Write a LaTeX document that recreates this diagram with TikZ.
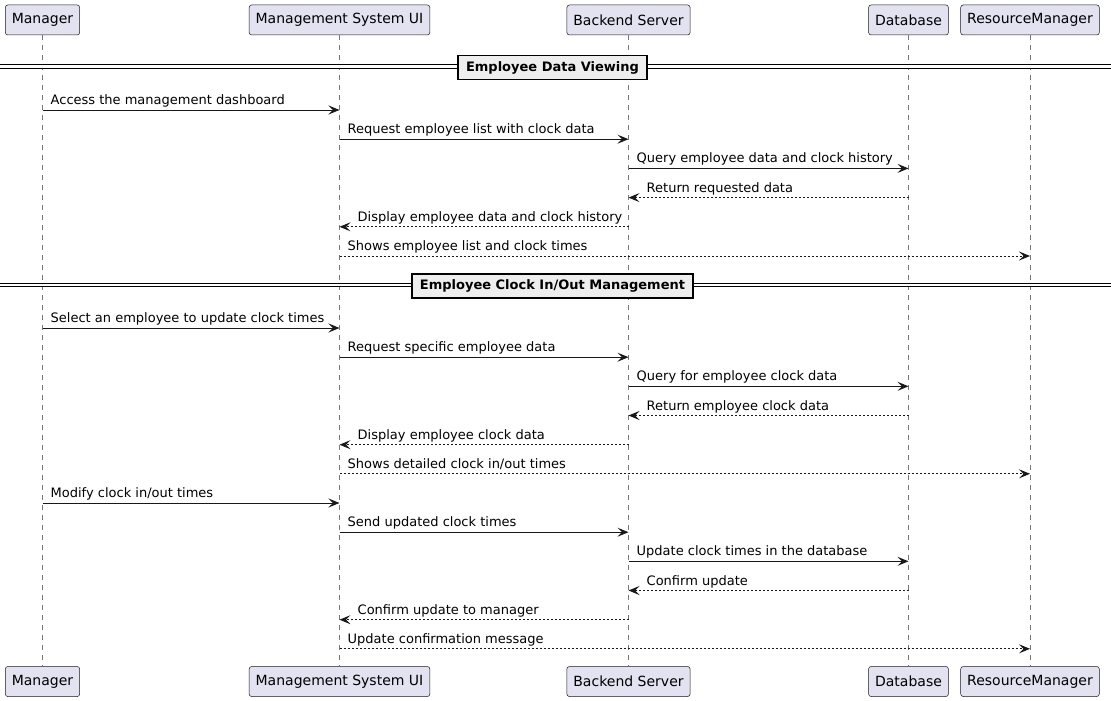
\documentclass[tikz,border=0pt]{standalone}
\usepackage{fontspec}
\setmainfont{DejaVu Sans}
\usetikzlibrary{arrows.meta}
\definecolor{partfill}{HTML}{E2E2F0}
\definecolor{partline}{HTML}{181818}
\definecolor{lifegray}{HTML}{777777}
\definecolor{divfill}{HTML}{EEEEEE}

\begin{document}
\begin{tikzpicture}[x=1pt,y=-1pt]
  \newcommand{\Xmgr}[0]{ 42.5 }
  \newcommand{\Xui}[0]{ 339.5 }
  \newcommand{\Xbe}[0]{ 628.5 }
  \newcommand{\Xdb}[0]{ 908.5 }
  \newcommand{\Xrm}[0]{ 1030 }
  \newcommand{\Xcenter}[0]{ 552.5 }
  \newcommand{\Xwidth}[0]{ 1111 }
  \newcommand{\Ytop}[0]{ 20 }
  \newcommand{\Ybot}[0]{ 681.5 }
  
  \tikzstyle{edge}  = [line width=1pt,draw=partline,-{Stealth[length=11pt,width=9pt,inset=4.5pt]}]
  \tikzstyle{dedge} = [line width=1pt,draw=partline,dash pattern=on 2pt off 2pt,-{Stealth[length=11pt,width=9pt,inset=4.5pt]}]
  \tikzstyle{lifeline} = [line width=0.6pt,draw=lifegray,dash pattern=on 5pt off 5pt]
  \tikzstyle{participant}=[
    rectangle,
    draw=partline,
    fill=partfill,
    line width=0.5pt,
    rounded corners=2.5pt,
    anchor=center,
    minimum height=30pt,
    inner xsep=6.5pt,
    font=\fontsize{14}{16}\selectfont,
  ]
  \tikzstyle{msglabel}=[
    anchor=base west,
    inner sep=0pt,
    font=\fontsize{13}{15}\selectfont,
  ]
  \tikzstyle{divline}=[
    draw=black,
    line width=1pt,
    double=white,
    double distance=2.3pt,
  ]
  \tikzstyle{divider}=[
    rectangle,
    draw=black,
    fill=divfill,
    line width=1.5pt,
    anchor=center,
    minimum height=24pt,
    inner xsep=8pt,
    font=\fontsize{13}{15}\selectfont\bfseries,
  ]
  
  \useasboundingbox (0,0) rectangle (\Xwidth,701);
  
  % #1: prefix
  % #2: x position
  % #3: label
  \newcommand{\buildParticipant}[3]{
    \node[participant] (#1 top) at (#2, \Ytop) {#3};
    \node[participant] (#1 bot) at (#2, \Ybot) {#3};
    \draw[lifeline] (#1 top.south) -- (#1 bot.north);
  }
  
  % #1: prefix
  % #2: y position
  % #3: label
  \newcommand{\buildDivider}[3]{
    \coordinate (#1 l) at (0, #2);
    \coordinate (#1 r) at (\Xwidth, #2);
    \draw[divline] (#1 l) -- (#1 r);
    \node[divider] (#1) at ([yshift=-1pt]\Xcenter, #2) {#3};
  }
  
  % #1: prefix
  % #2: from, #3: to (left to right)
  % #4: y position
  % #5: style
  % #6: label
  \newcommand{\buildSendRight}[6]{
    \coordinate (#1 a) at (#2 top.south |- 0,#4);
    \coordinate (#1 b) at (#3 top.south |- 0,#4);
    \draw[#5] (#1 a) -- (#1 b);
    \node[msglabel] (#1 label) at ([xshift=8pt,yshift=5.5pt]#1 a) {#6};
  }
  
  % #1: prefix
  % #2: from, #3: to (right to left)
  % #4: y position
  % #5: style
  % #6: label
  \newcommand{\buildSendLeft}[6]{
    \coordinate (#1 a) at (#2 top.south |- 0,#4);
    \coordinate (#1 b) at (#3 top.south |- 0,#4);
    \draw[#5] (#1 a) -- (#1 b);
    \node[msglabel] (#1 label) at ([xshift=18pt,yshift=5.5pt]#1 b) {#6};
  }
  
  % participants
  \buildParticipant{mgr}{\Xmgr}{Manager}
  \buildParticipant{ui}{\Xui}{Management System UI}
  \buildParticipant{be}{\Xbe}{Backend Server}
  \buildParticipant{db}{\Xdb}{Database}
  \buildParticipant{rm}{\Xrm}{ResourceManager}
  
  % employee data viewing
  \buildDivider{viewing}{66.5}{Employee Data Viewing}
  \buildSendRight{m1}{mgr}{ui}{110}{edge}{Access the management dashboard}
  \buildSendRight{m2}{ui}{be}{139.2}{edge}{Request employee list with clock data}
  \buildSendRight{m3}{be}{db}{168.4}{edge}{Query employee data and clock history}
  \buildSendLeft{m4}{db}{be}{197.6}{dedge}{Return requested data}
  \buildSendLeft{m5}{be}{ui}{226.8}{dedge}{Display employee data and clock history}
  \buildSendRight{m6}{ui}{rm}{256}{dedge}{Shows employee list and clock times}
  
  % clock in/out management
  \buildDivider{clock}{285.2}{Employee Clock In/Out Management}
  \buildSendRight{m7}{mgr}{ui}{328}{edge}{Select an employee to update clock times}
  \buildSendRight{m8}{ui}{be}{357.2}{edge}{Request specific employee data}
  \buildSendRight{m9}{be}{db}{386.3}{edge}{Query for employee clock data}
  \buildSendLeft{m10}{db}{be}{415.5}{dedge}{Return employee clock data}
  \buildSendLeft{m11}{be}{ui}{444.7}{dedge}{Display employee clock data}
  \buildSendRight{m12}{ui}{rm}{473.8}{dedge}{Shows detailed clock in/out times}
  \buildSendRight{m13}{mgr}{ui}{503}{edge}{Modify clock in/out times}
  \buildSendRight{m14}{ui}{be}{532.2}{edge}{Send updated clock times}
  \buildSendRight{m15}{be}{db}{561.3}{edge}{Update clock times in the database}
  \buildSendLeft{m16}{db}{be}{590.5}{dedge}{Confirm update}
  \buildSendLeft{m17}{be}{ui}{619.7}{dedge}{Confirm update to manager}
  \buildSendRight{m18}{ui}{rm}{648.8}{dedge}{Update confirmation message}
\end{tikzpicture}
\end{document}
